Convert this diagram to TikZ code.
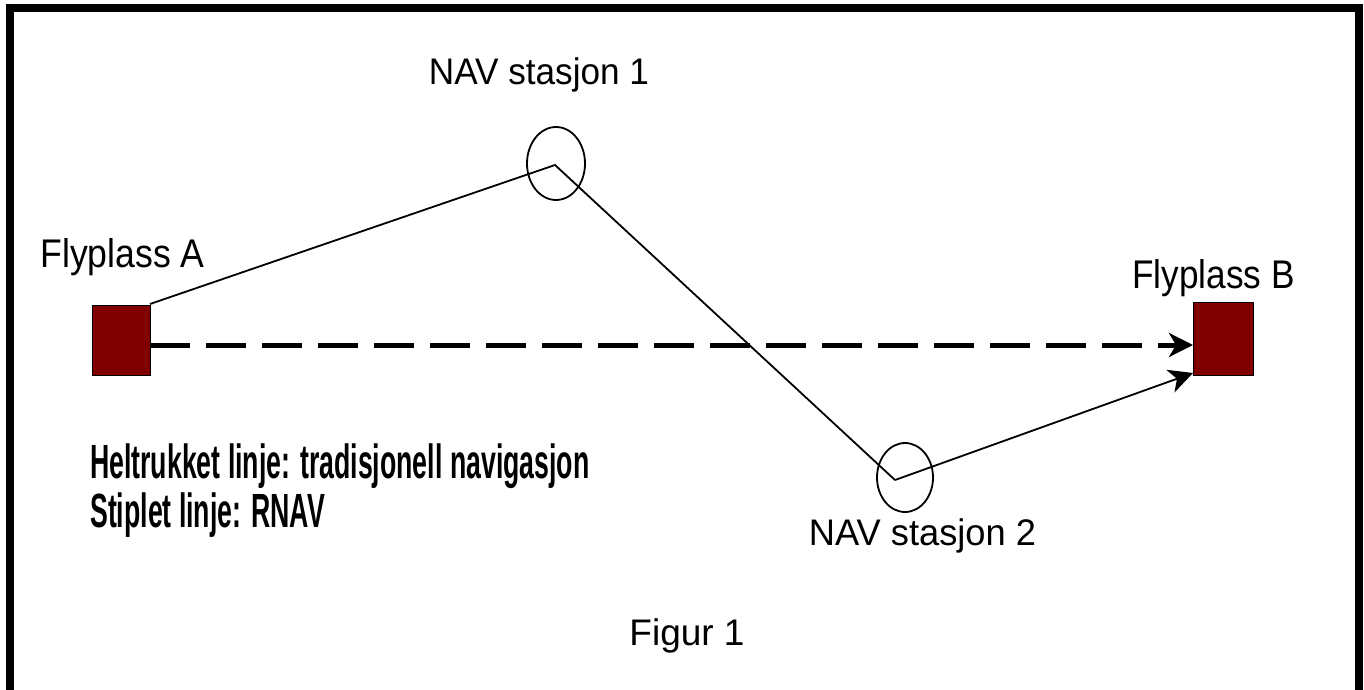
\documentclass[tikz,border=0pt]{standalone}
\usepackage{fontspec}
\setmainfont{Liberation Sans}
\usetikzlibrary{arrows.meta,shapes.geometric}
\definecolor{airportred}{RGB}{128,0,0}
\begin{document}
\begin{tikzpicture}[x=1pt,y=-1pt,
  airport/.style={draw=black, fill=airportred, line width=1pt, inner sep=0pt},
  navst/.style={draw=black, ellipse, line width=1.8pt, inner sep=0pt},
  route/.style={draw=black, line width=1.8pt},
  lbl/.style={inner sep=0pt, anchor=base, font=\fontsize{37pt}{40pt}\selectfont},
  legend/.style={inner sep=0pt, anchor=base west, font=\fontsize{48pt}{52pt}\selectfont\bfseries},
  tip/.style={-{Stealth[length=24pt,width=24pt,inset=7pt]}}
]
\useasboundingbox (0,0) rectangle (1364,690);
\fill[white] (0,0) rectangle (1364,690);
% frame (open at bottom)
\draw[line width=8pt, line join=miter] (9.5,690) -- (9.5,8.5) -- (1359,8.5) -- (1359,690);

% airports
\node[airport, minimum width=58pt, minimum height=70pt] (A) at (121,340) {};
\node[airport, minimum width=60pt, minimum height=73pt] (B) at (1223,338.5) {};

% navigation stations
\node[navst, minimum width=58pt, minimum height=73pt] (N1) at (556,163.5) {};
\node[navst, minimum width=56pt, minimum height=69pt] (N2) at (905,477.5) {};

% route vertices and ends
\coordinate (v1) at (555,165);
\coordinate (v2) at (895,480);
\coordinate (aStart) at (150,304);
\coordinate (bEnd) at (1193,373);
\coordinate (dStart) at (150,345);
\coordinate (dEnd) at (1193,345);

% traditional route
\draw[route] (aStart) -- (v1) -- (v2);
\draw[route, tip] (v2) -- (bEnd);
% RNAV route
\draw[line width=5pt, dash pattern=on 40pt off 16pt, tip] (dStart) -- (dEnd);

% labels
\node[lbl, font=\fontsize{40pt}{44pt}\selectfont] (lA) at (122.5,267) {\scalebox{0.89}[1]{Flyplass A}};
\node[lbl, font=\fontsize{40pt}{44pt}\selectfont] (lB) at (1213.5,288) {\scalebox{0.88}[1]{Flyplass B}};
\node[lbl] (lN1) at (539,85) {\scalebox{0.95}[1]{NAV stasjon 1}};
\node[lbl] (lN2) at (922.5,545) {\scalebox{0.98}[1]{NAV stasjon 2}};
\node[lbl] (fig) at (687,645) {Figur 1};

\node[legend] (leg1) at (90,478) {\scalebox{0.556}[1]{Heltrukket linje: tradisjonell navigasjon}};
\node[legend] (leg2) at (90,527) {\scalebox{0.556}[1]{Stiplet linje: RNAV}};
\end{tikzpicture}
\end{document}
